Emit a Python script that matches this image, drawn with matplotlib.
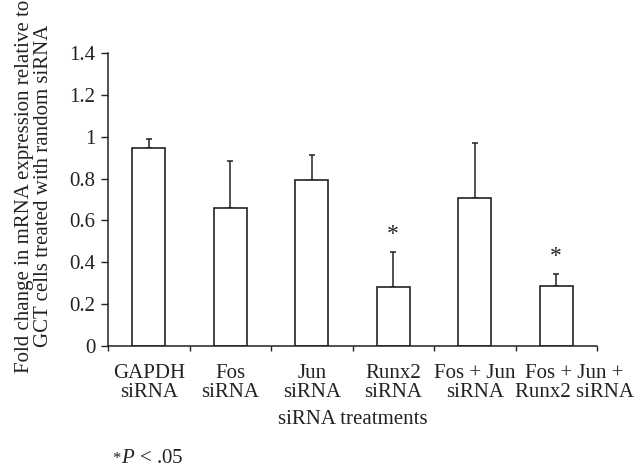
import matplotlib
matplotlib.use("Agg")
import matplotlib.pyplot as plt
import matplotlib.transforms as mtransforms
import numpy as np

categories = ["GAPDH\nsiRNA", "Fos\nsiRNA", "Jun\nsiRNA", "Runx2\nsiRNA",
              "Fos + Jun\nsiRNA", "Fos + Jun +\nRunx2 siRNA"]
values = [0.944, 0.659, 0.795, 0.280, 0.709, 0.285]
errors = [0.044, 0.225, 0.118, 0.171, 0.260, 0.060]
significant = [False, False, False, True, False, True]
yticks = [0, 0.2, 0.4, 0.6, 0.8, 1, 1.2, 1.4]
ytick_labels = ["0", "0.2", "0.4", "0.6", "0.8", "1", "1.2", "1.4"]

plt.rcParams['font.family'] = ['Liberation Serif', 'DejaVu Serif']
plt.rcParams['mathtext.fontset'] = 'custom'
plt.rcParams['mathtext.it'] = 'Liberation Serif:italic'
plt.rcParams['mathtext.rm'] = 'Liberation Serif'
FS = 15
ink = "#222222"

fig = plt.figure(figsize=(6.44, 4.67), dpi=100)
ax = fig.add_axes([108/644, 1-346/467, (597-108)/644, (346-53)/467])

x = np.arange(len(categories)) + 0.5
ax.bar(x, values, width=0.4, color="white", edgecolor=ink, linewidth=1.2, zorder=2)
ax.errorbar(x, values, yerr=[np.zeros(len(errors)), errors], fmt="none",
            ecolor=ink, elinewidth=1.1, capsize=2, capthick=1.1, zorder=1)
for xi, v, e, s in zip(x, values, errors, significant):
    if s:
        ax.annotate("*", (xi, v + e), xytext=(0, 5), textcoords="offset points",
                    ha="center", va="bottom", fontsize=FS + 2, color=ink)

ax.set_xlim(0, len(categories))
ax.set_ylim(0, 1.4)
ax.set_yticks(yticks)
ax.set_yticklabels(ytick_labels, fontsize=FS, color=ink)
ax.set_xticks(np.arange(len(categories) + 1))
ax.set_xticklabels([])
ax.set_xticks(x, minor=True)
ax.set_xticklabels(categories, minor=True, fontsize=FS, color=ink, linespacing=1.0)
ax.tick_params(axis="x", which="minor", length=0, pad=13)
ax.tick_params(axis="x", which="major", length=3.5, width=1, direction="out", color=ink)
ax.tick_params(axis="y", length=5, width=1, direction="out", color=ink, pad=4)
# last label is shifted right in the original to avoid collision
lab = ax.get_xticklabels(minor=True)[-1]
lab.set_transform(lab.get_transform() +
                  mtransforms.ScaledTranslation(18/100, 0, fig.dpi_scale_trans))
for s in ["top", "right"]:
    ax.spines[s].set_visible(False)
for s in ["left", "bottom"]:
    ax.spines[s].set_color(ink)
    ax.spines[s].set_linewidth(1.1)

ax.set_xlabel("siRNA treatments", fontsize=FS, color=ink, labelpad=6)
fig.text(34/644, 1-186/467, "Fold change in mRNA expression relative to\nGCT cells treated with random siRNA",
         rotation=90, ha="center", va="center", fontsize=15, color=ink, linespacing=1.0)
fig.text(112/644, 1-463/467, r"*", fontsize=FS - 3, color=ink, ha="left", va="baseline")
fig.text(112/644 + 9/644, 1-463/467, r"$\mathit{P}$ < .05", fontsize=FS, color=ink,
         ha="left", va="baseline")

fig.savefig("out.png", dpi=100)
